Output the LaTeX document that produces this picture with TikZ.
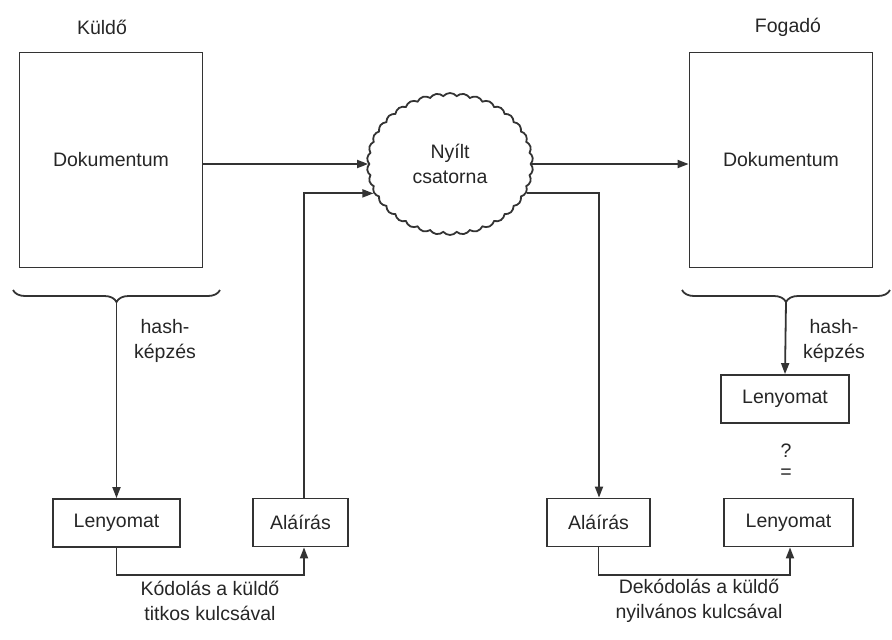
\documentclass[tikz,border=0pt]{standalone}
\usepackage{fontspec}
\setmainfont{Liberation Sans}
\usetikzlibrary{arrows.meta,shapes.symbols,decorations.pathreplacing,calc}
\begin{document}
\begin{tikzpicture}[x=1pt,y=-1pt,
  every node/.style={font=\fontsize{19.5}{25.5}\selectfont, text=black!85},
  ln/.style={line width=1.8pt, draw=black!80},
  box/.style={ln, draw, rectangle, inner sep=0pt},
  doc/.style={box, minimum width=183pt, minimum height=215pt},
  small/.style={box, minimum height=48pt},
  arr/.style={ln, -{Triangle[length=11pt,width=8pt]}},
  lbl/.style={align=center, inner sep=0pt},
  cbrace/.style={ln, decorate, decoration={brace, amplitude=12pt}}]
\useasboundingbox (0,0) rectangle (892,640);

% sender and receiver documents
\node[doc] (docL) at (111,160) {Dokumentum};
\node[doc] (docR) at (781,160) {Dokumentum};
\node[lbl] (sender) at (102,27) {Küldő};
\node[lbl] (receiver) at (788,27) {Fogadó};

% open channel
\node[cloud, ln, draw, cloud puffs=38, cloud puff arc=100, aspect=1.15,
      minimum width=166pt, minimum height=142pt, align=center,
      font=\fontsize{19.5}{25.5}\selectfont] (chan) at (450,164) {Nyílt\\csatorna};

% digest and signature boxes
\node[small, minimum width=127pt] (lenL) at (116.5,523) {Lenyomat};
\node[small, minimum width=95pt]  (alaL) at (300.5,522.5) {Aláírás};
\node[small, minimum width=103pt] (alaR) at (598.5,522.5) {Aláírás};
\node[small, minimum width=129pt] (lenR2) at (788.5,522.5) {Lenyomat};
\node[small, minimum width=128pt] (lenR1) at (785,399) {Lenyomat};

% braces under the documents
\draw[cbrace] (220,290) -- (13,290);
\draw[cbrace] (890,290) -- (682,290);
\coordinate (bL) at (116.5,302);
\coordinate (bR) at (786,302);

% hashing
\draw[arr] (bL) -- (lenL.north);
\draw[arr] (bR) -- (lenR1.north);
\node[lbl] (hashL) at (165,341) {hash-\\képzés};
\node[lbl] (hashR) at (834,341) {hash-\\képzés};

% document through the channel
\draw[arr] (docL.east |- chan.west) -- (chan.west);
\draw[arr] (chan.east) -- (docR.west |- chan.east);

% signature through the channel
\draw[arr] ([xshift=3.5pt]alaL.north) |- (chan.201);
\draw[arr] (chan.-21) -| ([xshift=0.5pt]alaR.north);

% encryption and decryption of the digest
\coordinate (kL) at (304,575);
\coordinate (kR) at (790,575);
\draw[arr] (lenL.south) |- (kL) -- (kL |- alaL.south);
\draw[arr] (alaR.south) |- (kR) -- (kR |- lenR2.south);
\node[lbl] (encL) at (210,601) {Kódolás a küldő\\titkos kulcsával};
\node[lbl] (decR) at (699,601) {Dekódolás a küldő\\nyilvános kulcsával};

% comparison
\node[lbl] (q) at (786,451) {?};
\node[lbl] (eq) at (786,474) {=};
\end{tikzpicture}
\end{document}
